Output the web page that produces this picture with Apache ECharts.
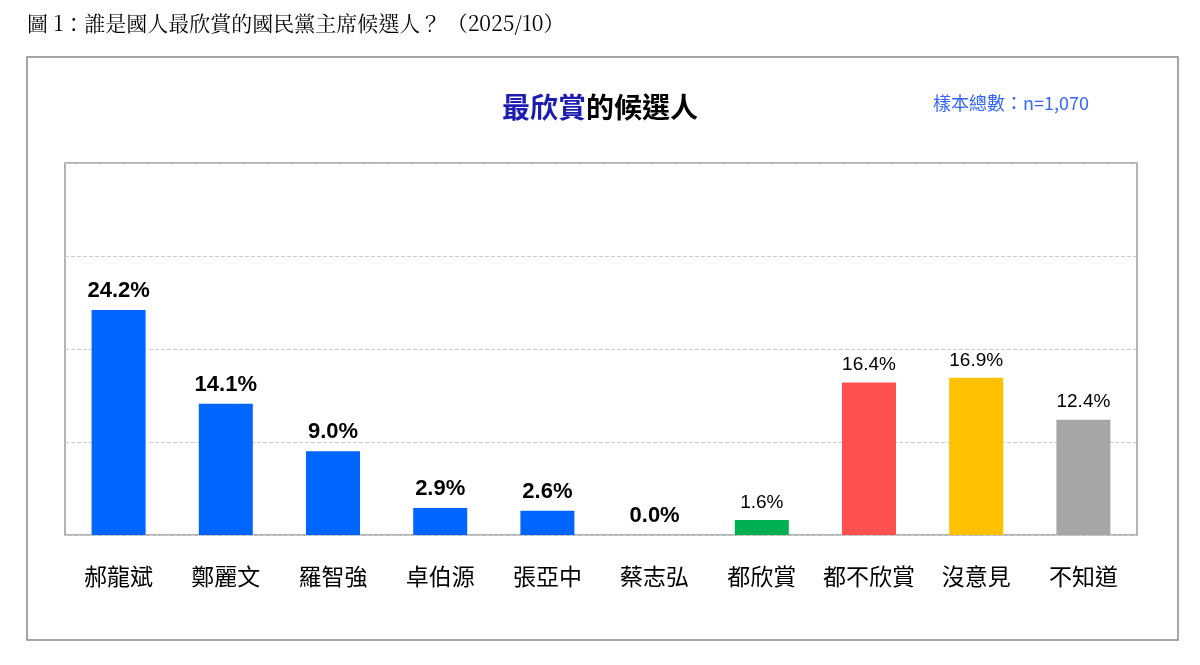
<!DOCTYPE html>
<html><head><meta charset="utf-8">
<script src="https://cdn.jsdelivr.net/npm/echarts@6/dist/echarts.min.js"></script>
<style>html,body{margin:0;background:#fff}#c{width:1200px;height:665px}</style>
</head><body><div id="c"></div>
<script>
const categories = ['郝龍斌','鄭麗文','羅智強','卓伯源','張亞中','蔡志弘','都欣賞','都不欣賞','沒意見','不知道'];
const values = [24.2,14.1,9.0,2.9,2.6,0.0,1.6,16.4,16.9,12.4];
const colors = ['#0066ff','#0066ff','#0066ff','#0066ff','#0066ff','#0066ff','#00b050','#ff5050','#ffc000','#a6a6a6'];
const boldLabel = [true,true,true,true,true,true,false,false,false,false];
const yTicks = {min:0,max:40,interval:10};

const chart = echarts.init(document.getElementById('c'));
chart.setOption({
  animation:false,
  title:[
    {text:'圖 1：誰是國人最欣賞的國民黨主席候選人？ （2025/10）',left:22,top:8,
     textStyle:{fontFamily:'Noto Serif CJK TC, Noto Sans CJK TC, serif',fontSize:21,fontWeight:'normal',color:'#000'}},
    {text:'{a|最欣賞}{b|的候選人}',left:'center',top:88,
     textStyle:{rich:{a:{fontFamily:'Noto Sans CJK TC',fontSize:28,fontWeight:'bold',color:'#1c1cb0'},
                      b:{fontFamily:'Noto Sans CJK TC',fontSize:28,fontWeight:'bold',color:'#000'}}}},
    {text:'樣本總數：n=1,070',left:928,top:89,
     textStyle:{fontFamily:'Noto Sans CJK TC',fontSize:18,fontWeight:'normal',color:'#3366ff'}}
  ],
  graphic:[{type:'rect',shape:{x:27,y:57,width:1151,height:583},style:{fill:'none',stroke:'#888',lineWidth:1.5}}],
  grid:{left:65,right:63,top:163,bottom:130,show:true,borderColor:'#999',borderWidth:1.5},
  xAxis:{type:'category',data:categories,axisTick:{show:false},axisLine:{show:false},
    axisLabel:{interval:0,fontFamily:'Noto Sans CJK TC',fontSize:23,color:'#000',margin:30}},
  yAxis:{type:'value',min:yTicks.min,max:yTicks.max,interval:yTicks.interval,axisLabel:{show:false},
    axisLine:{show:false},axisTick:{show:false},splitLine:{lineStyle:{type:'dashed',color:'#ccc'}}},
  series:[{type:'bar',barWidth:54,
    data:values.map((v,i)=>({value:v,itemStyle:{color:colors[i]},
      label:{show:true,position:'top',distance:8,formatter:v.toFixed(1)+'%',
        fontFamily:'Liberation Sans, Arial',fontSize:boldLabel[i]?22:19,fontWeight:boldLabel[i]?'bold':'normal',color:'#000'}}))}]
});
</script></body></html>
